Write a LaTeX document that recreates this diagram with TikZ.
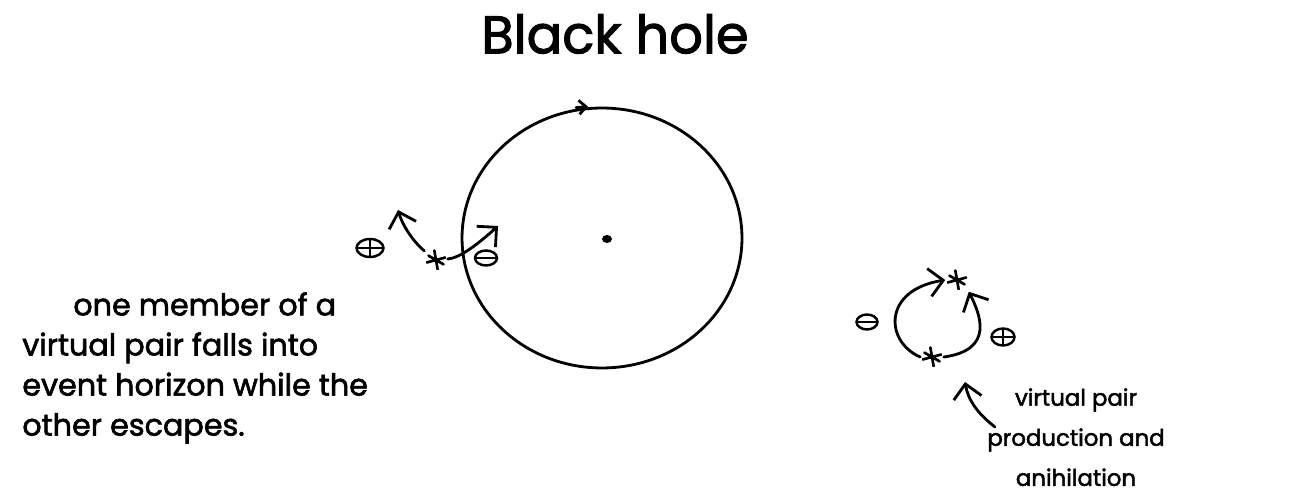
\documentclass[tikz,border=0pt]{standalone}
\usepackage{fontspec}
\setmainfont{Poppins}
\newfontfamily\handfont{Poppins}[FakeBold=2]
\usetikzlibrary{arrows.meta,shapes.geometric,positioning,calc}

\tikzset{
    ink/.style={line width=1.6pt, line cap=round, line join=round},
    arr/.style={ink, -{Straight Barb[length=8pt, width=16pt]}},
    hand/.style={font=\handfont\fontsize{17.2}{22.8}\selectfont, inner sep=0pt},
    charge/.style={draw, ellipse, line width=1.4pt, minimum width=0.48cm, minimum height=0.34cm, inner sep=0pt},
    poscharge/.style={charge, path picture={\draw[line width=1.3pt]
        (path picture bounding box.west) -- (path picture bounding box.east)
        (path picture bounding box.north) -- (path picture bounding box.south);}},
    negcharge/.style={charge, path picture={\draw[line width=1.3pt]
        (path picture bounding box.west) -- (path picture bounding box.east);}},
    pairpt/.style={minimum size=0.4cm, inner sep=0pt, outer sep=1pt,
        path picture={\draw[line width=1.5pt, line cap=round]
        ($(path picture bounding box.center)+(100:5.5pt)$) -- ($(path picture bounding box.center)+(280:5.5pt)$)
        ($(path picture bounding box.center)+(15:5.5pt)$) -- ($(path picture bounding box.center)+(195:5.5pt)$)
        ($(path picture bounding box.center)+(150:5pt)$) -- ($(path picture bounding box.center)+(330:5pt)$);}}
}

\begin{document}
\begin{tikzpicture}[x=0.02cm, y=-0.02cm]
\useasboundingbox (0,0) rectangle (1297,502);

% title
\node[hand, font=\handfont\fontsize{30}{34}\selectfont] (title) at (615,34) {Black hole};

% black hole and its horizon
\node[draw, ellipse, ink, minimum width=5.6cm, minimum height=5.2cm, inner sep=0pt] (bh) at (602,238) {};
\draw[ink, -{Straight Barb[length=4pt, width=8pt]}] ($(bh.north)+(-26,1)$) -- ($(bh.north)+(-14,0)$);
\node[ellipse, fill, minimum width=0.2cm, minimum height=0.16cm, inner sep=0pt] (sing) at (607,239) {};

% pair at the horizon
\node[pairpt] (starL) at (436,260) {};
\node[poscharge, minimum width=0.54cm, minimum height=0.36cm] (posL) at (370,248) {};
\node[negcharge, minimum width=0.44cm, minimum height=0.30cm] (negL) at (486,258) {};
\coordinate (escTip) at (398,210);
\coordinate (fallTip) at (498,226);
\draw[arr] (starL) .. controls (418,246) and (404,230) .. (escTip);
\draw[arr] (starL) .. controls (460,258) and (478,244) .. (fallTip);

% pair far away
\node[pairpt] (starB) at (932,357) {};
\node[pairpt] (starT) at (957,280) {};
\node[negcharge, minimum width=0.42cm, minimum height=0.30cm] (negR) at (867,322) {};
\node[poscharge, minimum width=0.46cm, minimum height=0.34cm] (posR) at (1003,337) {};
\draw[arr] (starB.west) .. controls (885,342) and (882,290) .. (starT.west);
\draw[arr] (starB.east) .. controls (995,350) and (980,314) .. (starT.south east);

% labels
\node[hand, align=left, anchor=north west] (falltext) at (22,292)
    {\hspace*{1.02cm}one member of a\\virtual pair falls into\\event horizon while the\\other escapes.};
\node[hand, font=\handfont\fontsize{13}{22.8}\selectfont, align=center, anchor=north] (pairtext) at (1076,388)
    {virtual pair\\production and\\anihilation};
\coordinate (prodTail) at (995,427);
\coordinate (prodTip) at (965,382);
\draw[arr] (prodTail) .. controls (978,414) and (968,400) .. (prodTip);
\end{tikzpicture}
\end{document}
